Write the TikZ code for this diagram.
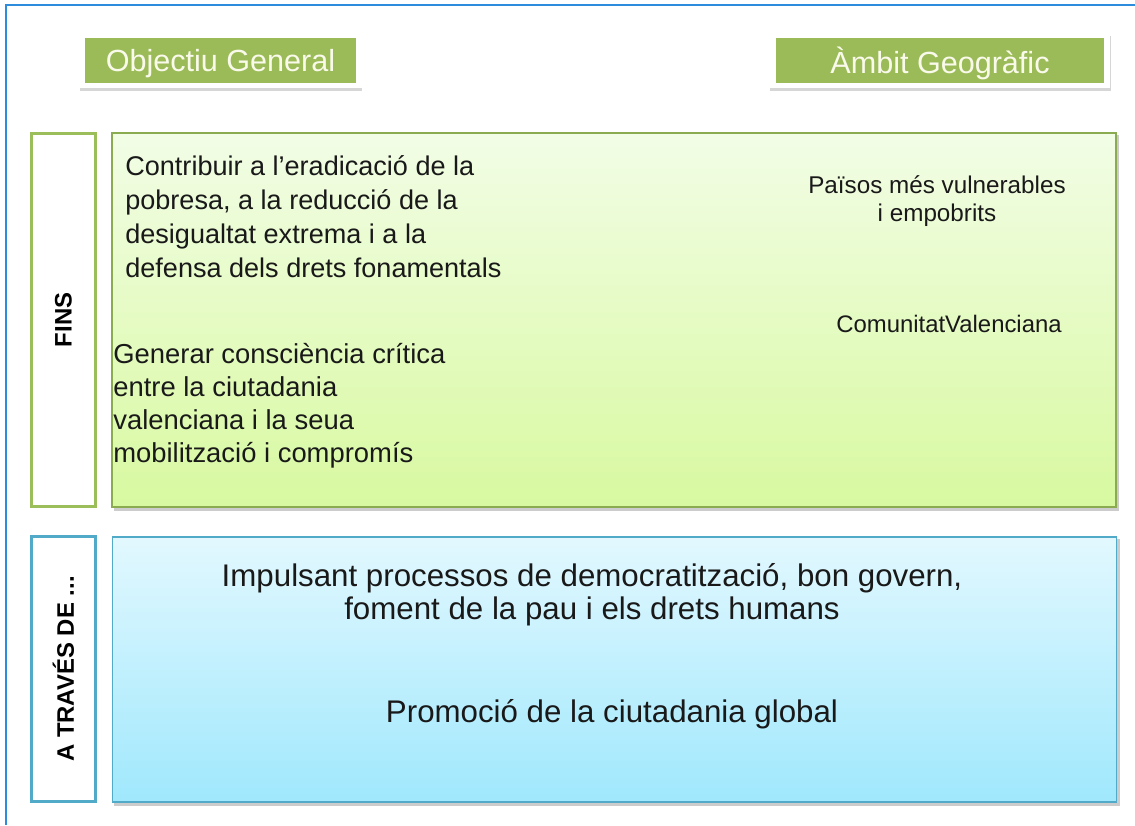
\documentclass[tikz,border=0pt]{standalone}
\usepackage{fontspec}
\setmainfont{Liberation Sans}
\usetikzlibrary{shadows,positioning}
\definecolor{hdrgreen}{RGB}{155,187,89}
\definecolor{lblgreen}{RGB}{155,190,90}
\definecolor{lblblue}{RGB}{80,170,200}
\definecolor{framblue}{RGB}{45,140,220}
\definecolor{txtdark}{RGB}{25,25,25}
\begin{document}
\begin{tikzpicture}[x=0.02cm,y=-0.02cm,
    hdr/.style={fill=hdrgreen,draw=white,line width=3.4pt,inner sep=0pt,
      minimum height=1.0cm,text depth=0pt,text={rgb,255:red,250;green,250;blue,235},
      font=\fontsize{17.4}{20}\selectfont,
      copy shadow={shadow xshift=0.01cm,shadow yshift=-0.06cm,fill=black!16,draw=black!16,line width=3.4pt}},
    sidebox/.style={draw,fill=white,line width=1.7pt,rotate=90,inner sep=0pt,
      minimum height=1.28cm,font=\bfseries\fontsize{13.6}{16}\selectfont},
    bigbox/.style={line width=0.9pt,inner sep=0pt,minimum width=20.08cm,
      copy shadow={shadow xshift=0.05cm,shadow yshift=-0.06cm,fill=black!20,draw=black!20}},
    txt/.style={text=txtdark,inner sep=0pt}]
  \useasboundingbox (0,0) rectangle (1135,825);
  \draw [framblue,line width=1.3pt] (6,825) -- (6,5) -- (1135,5);
  % headers
  \node (OG) [hdr,minimum width=5.54cm] at (220.5,60.5) {Objectiu General};
  \node (AG) [hdr,minimum width=6.69cm] at (940,60.5) {Àmbit Geogràfic};
  % side labels
  \node (FI) [sidebox,draw=lblgreen,minimum width=7.46cm] at (63.5,320) {FINS};
  \node (AT) [sidebox,draw=lblblue,minimum width=5.3cm] at (63.5,669) {A TRAVÉS DE ...};
  % boxes
  \node (FB) [bigbox,draw=lblgreen!90!black,minimum height=7.48cm,
    top color={rgb,255:red,242;green,253;blue,230},
    bottom color={rgb,255:red,216;green,249;blue,160}] at (614,320) {};
  \node (AB) [bigbox,draw=lblblue,minimum height=5.3cm,
    top color={rgb,255:red,226;green,248;blue,254},
    bottom color={rgb,255:red,160;green,232;blue,253}] at (614.5,669.5) {};
  % texts
  \node (G1) [txt,anchor=west,align=left,font=\fontsize{15.4}{19.3}\selectfont]
    at (125,217) {Contribuir a l’eradicació de la\\pobresa, a la reducció de la\\desigualtat extrema i a la\\defensa dels drets fonamentals};
  \node (G2) [txt,anchor=west,align=left,font=\fontsize{15.6}{18.7}\selectfont]
    at (113,406) {Generar consciència crítica\\entre la ciutadania\\valenciana i la seua\\mobilització i compromís};
  \node (P1) [txt,align=center,font=\fontsize{13.8}{16.4}\selectfont]
    at (937,201) {Països més vulnerables\\i empobrits};
  \node (P2) [txt,font=\fontsize{13.6}{16}\selectfont] at (949,324) {ComunitatValenciana};
  \node (A1) [txt,align=center,font=\fontsize{17.8}{18.7}\selectfont]
    at (592,595) {Impulsant processos de democratització, bon govern,\\foment de la pau i els drets humans};
  \node (A2) [txt,font=\fontsize{17.8}{18.7}\selectfont] at (612,714) {Promoció de la ciutadania global};
\end{tikzpicture}
\end{document}
